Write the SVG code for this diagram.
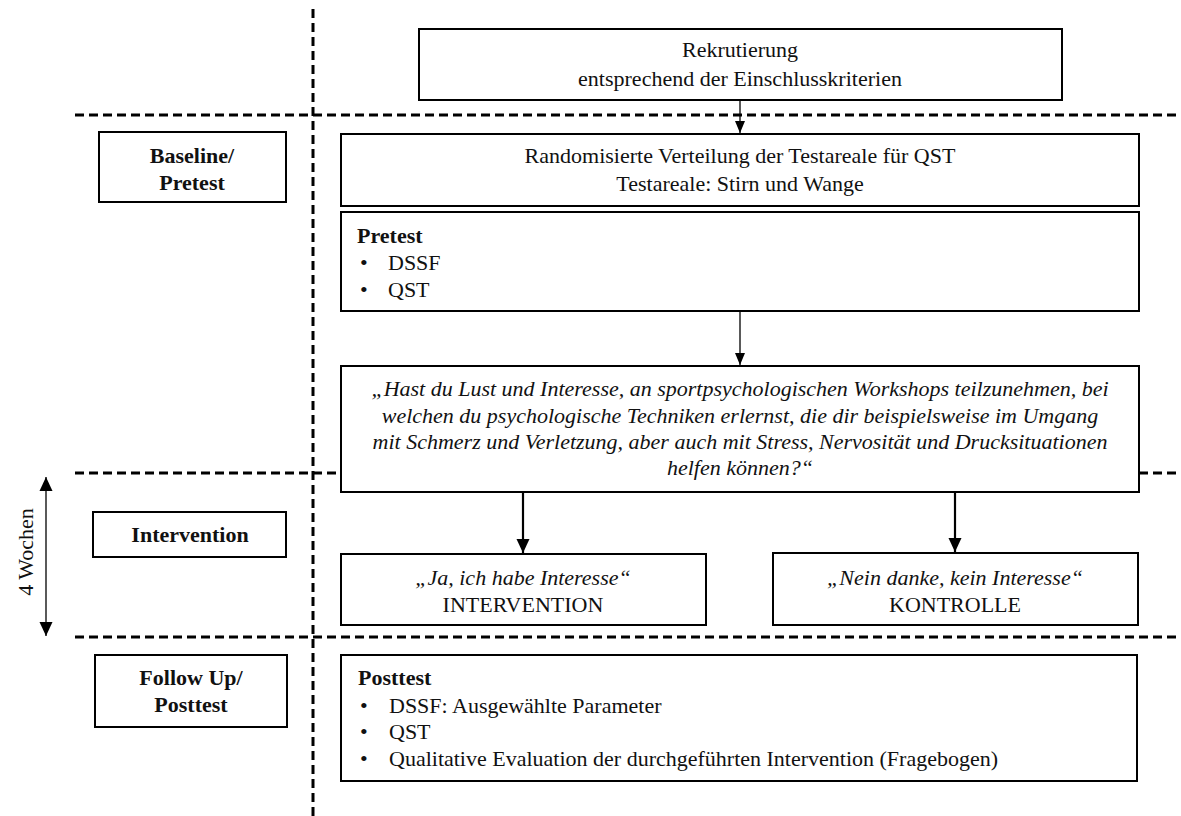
<svg xmlns="http://www.w3.org/2000/svg" width="1181" height="816" viewBox="0 0 1181 816">
  <defs>
    <marker id="head-thin" markerUnits="userSpaceOnUse" markerWidth="12" markerHeight="12" viewBox="0 0 12 12" refX="12" refY="6" orient="auto-start-reverse">
      <path d="M0,1 L12,6 L0,11 Z" fill="#000"/>
    </marker>
    <marker id="head-bold" markerUnits="userSpaceOnUse" markerWidth="14" markerHeight="14" viewBox="0 0 14 14" refX="14" refY="7" orient="auto-start-reverse">
      <path d="M0,0.5 L14,7 L0,13.5 Z" fill="#000"/>
    </marker>
  </defs>
  <style>
    .box { fill: #fff; stroke: #000; stroke-width: 2; }
    .divider { fill: none; stroke: #000; stroke-width: 3; stroke-dasharray: 9 5; }
    .t { font-family: "Liberation Serif", "Times New Roman", serif; font-size: 22px; fill: #111; }
    .b { font-weight: bold; }
    .i { font-style: italic; }
    .c { text-anchor: middle; }
    .conn { fill: none; stroke: #000; stroke-width: 1.3; }
    .conn-bold { fill: none; stroke: #000; stroke-width: 2.2; }
  </style>

  <rect width="1181" height="816" fill="#fff"/>

  <!-- phase dividers -->
  <g id="phase-dividers">
    <line class="divider" x1="313" y1="9" x2="313" y2="816"/>
    <line class="divider" x1="75" y1="115" x2="1178" y2="115"/>
    <line class="divider" x1="75" y1="473" x2="341" y2="473"/>
    <line class="divider" x1="1139" y1="473" x2="1181" y2="473"/>
    <line class="divider" x1="75" y1="637" x2="1181" y2="637"/>
  </g>

  <!-- phase labels -->
  <g id="phase-baseline">
    <rect class="box" x="99" y="132" width="187" height="70"/>
    <text class="t b c" x="192" y="163">Baseline/</text>
    <text class="t b c" x="192" y="190">Pretest</text>
  </g>
  <g id="phase-intervention">
    <rect class="box" x="93" y="512" width="193" height="45"/>
    <text class="t b c" x="190" y="542">Intervention</text>
  </g>
  <g id="phase-followup">
    <rect class="box" x="95" y="655" width="192" height="72"/>
    <text class="t b c" x="191" y="685">Follow Up/</text>
    <text class="t b c" x="191" y="712">Posttest</text>
  </g>

  <!-- duration marker -->
  <g id="duration">
    <line class="conn" x1="46" y1="477" x2="46" y2="636" marker-start="url(#head-bold)" marker-end="url(#head-bold)"/>
    <text class="t c" transform="translate(33,552) rotate(-90)" x="0" y="0">4 Wochen</text>
  </g>

  <!-- flow nodes -->
  <g id="recruitment">
    <rect class="box" x="419" y="29" width="643" height="71"/>
    <text class="t c" x="740" y="57">Rekrutierung</text>
    <text class="t c" x="740" y="86">entsprechend der Einschlusskriterien</text>
  </g>
  <g id="randomisation">
    <rect class="box" x="341" y="134" width="798" height="72"/>
    <text class="t c" x="740" y="163">Randomisierte Verteilung der Testareale für QST</text>
    <text class="t c" x="740" y="191">Testareale: Stirn und Wange</text>
  </g>
  <g id="pretest">
    <rect class="box" x="341" y="212" width="798" height="99"/>
    <text class="t b" x="357" y="243">Pretest</text>
    <text class="t" x="360" y="270">•</text>
    <text class="t" x="388" y="270">DSSF</text>
    <text class="t" x="360" y="297">•</text>
    <text class="t" x="388" y="297">QST</text>
  </g>
  <g id="question">
    <rect class="box" x="341" y="366" width="798" height="126"/>
    <text class="t i c" x="740" y="396">„Hast du Lust und Interesse, an sportpsychologischen Workshops teilzunehmen, bei</text>
    <text class="t i c" x="740" y="423">welchen du psychologische Techniken erlernst, die dir beispielsweise im Umgang</text>
    <text class="t i c" x="740" y="449">mit Schmerz und Verletzung, aber auch mit Stress, Nervosität und Drucksituationen</text>
    <text class="t i c" x="740" y="475">helfen können?“</text>
  </g>
  <g id="intervention-group">
    <rect class="box" x="341" y="554" width="365" height="71"/>
    <text class="t i c" x="523" y="585">„Ja, ich habe Interesse“</text>
    <text class="t c" x="523" y="612">INTERVENTION</text>
  </g>
  <g id="control-group">
    <rect class="box" x="773" y="553" width="365" height="72"/>
    <text class="t i c" x="955" y="585">„Nein danke, kein Interesse“</text>
    <text class="t c" x="955" y="612">KONTROLLE</text>
  </g>
  <g id="posttest">
    <rect class="box" x="341" y="655" width="796" height="126"/>
    <text class="t b" x="358" y="685">Posttest</text>
    <text class="t" x="360" y="713">•</text>
    <text class="t" x="389" y="713">DSSF: Ausgewählte Parameter</text>
    <text class="t" x="360" y="739">•</text>
    <text class="t" x="389" y="739">QST</text>
    <text class="t" x="360" y="766">•</text>
    <text class="t" x="389" y="766">Qualitative Evaluation der durchgeführten Intervention (Fragebogen)</text>
  </g>

  <!-- connectors -->
  <g id="connectors">
    <line class="conn" x1="740" y1="101" x2="740" y2="133" marker-end="url(#head-thin)"/>
    <line class="conn" x1="740" y1="312" x2="740" y2="365" marker-end="url(#head-thin)"/>
    <line class="conn-bold" x1="523" y1="493" x2="523" y2="553" marker-end="url(#head-bold)"/>
    <line class="conn-bold" x1="955" y1="493" x2="955" y2="552" marker-end="url(#head-bold)"/>
  </g>
</svg>
